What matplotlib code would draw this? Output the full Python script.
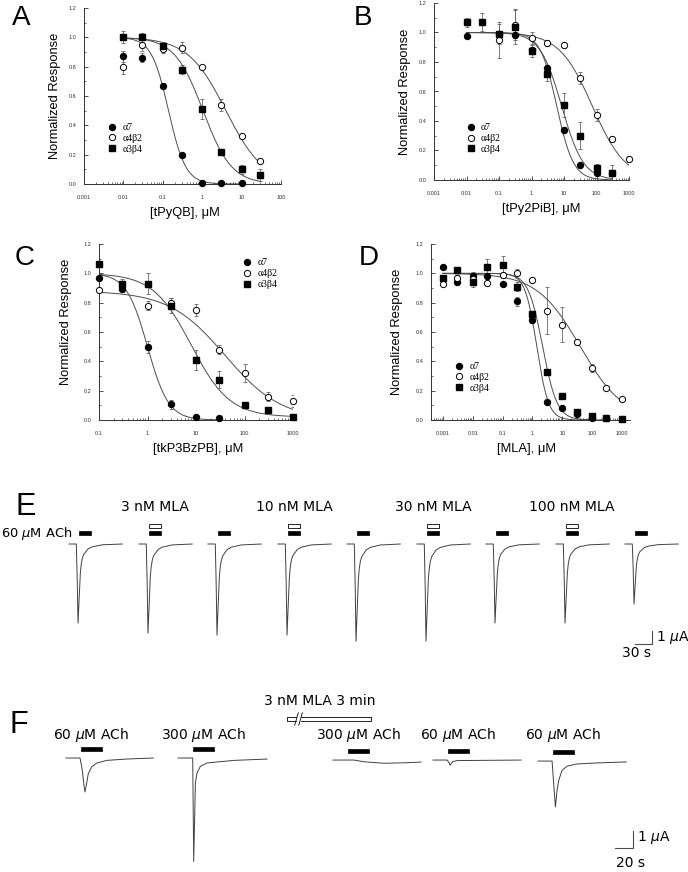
import numpy as np
import matplotlib
matplotlib.use("Agg")
import matplotlib.pyplot as plt
from matplotlib.patches import Rectangle
from matplotlib.ticker import LogLocator, MultipleLocator, NullFormatter

plt.rcParams['font.family'] = ['Liberation Sans', 'DejaVu Sans']
plt.rcParams['mathtext.fontset'] = 'dejavusans'

nan = np.nan
RECEPTORS = ['α7', 'α4β2', 'α3β4']

# ---- A: tPyQB
A_CONC = [0.01, 0.03, 0.1, 0.3, 1, 3, 10, 30]
A_A7 = [0.87, 0.86, 0.67, 0.20, 0.01, 0.01, 0.005, nan]
A_A7_ERR = [0.04, 0.03, 0.02, 0.01, 0, 0, 0, 0]
A_A4B2 = [0.80, 0.95, 0.92, 0.93, 0.80, 0.54, 0.33, 0.16]
A_A4B2_ERR = [0.05, 0.04, 0.03, 0.04, 0.01, 0.04, 0.01, 0.02]
A_A3B4 = [1.0, 1.0, 0.94, 0.78, 0.51, 0.22, 0.10, 0.06]
A_A3B4_ERR = [0.04, 0.03, 0.03, 0.03, 0.07, 0.02, 0.03, 0.04]
# fitted curves: top, bottom, IC50 (uM), Hill slope
A_FITS = [(1.0, 0.0, 0.14, 2.0), (1.0, 0.0, 4.0, 0.9), (1.0, 0.0, 1.05, 1.2)]
A_FIT_RANGE = [(0.01, 10), (0.01, 30), (0.01, 30)]

# ---- B: tPy2PiB
B_CONC = [0.01, 0.03, 0.1, 0.3, 1, 3, 10, 30, 100, 300, 1000]
B_A7 = [0.975, nan, 0.99, 0.985, 0.88, 0.76, 0.34, 0.105, 0.05, 0.045, nan]
B_A7_ERR = [0.01, 0, 0.02, 0.02, 0.02, 0.02, 0.02, 0.01, 0.01, 0.01, 0]
B_A4B2 = [nan, nan, 0.95, 1.05, 0.965, 0.93, 0.915, 0.69, 0.44, 0.28, 0.14]
B_A4B2_ERR = [0, 0, 0.12, 0.10, 0.04, 0.02, 0.02, 0.04, 0.04, 0.02, 0.02]
B_A3B4 = [1.07, 1.07, 0.99, 1.04, 0.875, 0.72, 0.51, 0.30, 0.08, 0.05, nan]
B_A3B4_ERR = [0.03, 0.06, 0.07, 0.12, 0.04, 0.05, 0.08, 0.09, 0.03, 0.05, 0]
B_FITS = [(1.0, 0.0, 6.0, 1.7), (1.0, 0.0, 75.0, 0.85), (1.0, 0.0, 8.5, 1.3)]
B_FIT_RANGE = [(0.01, 300), (0.01, 1000), (0.01, 300)]

# ---- C: tkP3BzPB
C_CONC = [0.1, 0.3, 1, 3, 10, 30, 100, 300, 1000]
C_A7 = [0.97, 0.895, 0.50, 0.107, 0.023, 0.014, nan, nan, nan]
C_A7_ERR = [0.02, 0.02, 0.04, 0.03, 0.01, 0.005, 0, 0, 0]
C_A4B2 = [0.888, nan, 0.78, 0.80, 0.75, 0.48, 0.32, 0.16, 0.13]
C_A4B2_ERR = [0.01, 0, 0.03, 0.03, 0.04, 0.03, 0.06, 0.03, 0.04]
C_A3B4 = [1.066, 0.93, 0.93, 0.78, 0.41, 0.275, 0.10, 0.07, 0.018]
C_A3B4_ERR = [0.01, 0.03, 0.07, 0.05, 0.07, 0.06, 0.01, 0.01, 0.01]
C_FITS = [(1.0, 0.0, 1.0, 2.0), (0.88, 0.0, 40.0, 0.75), (1.0, 0.02, 8.0, 1.1)]
C_FIT_RANGE = [(0.1, 30), (0.1, 1000), (0.1, 1000)]

# ---- D: MLA
D_CONC = [0.001, 0.003, 0.01, 0.03, 0.1, 0.3, 1, 3, 10, 30, 100, 300, 1000]
D_A7 = [1.04, 0.94, 0.98, 0.98, 0.93, 0.81, 0.68, 0.12, 0.08, 0.04, 0.014, 0.011, nan]
D_A7_ERR = [0.01, 0.02, 0.03, 0.02, 0.01, 0.03, 0.02, 0.01, 0.01, 0.01, 0, 0, 0]
D_A4B2 = [0.925, 0.97, 0.96, 0.935, 0.99, 1.0, 0.955, 0.745, 0.65, 0.53, 0.355, 0.22, 0.14]
D_A4B2_ERR = [0.01, 0.02, 0.02, 0.01, 0.02, 0.03, 0.01, 0.16, 0.12, 0.02, 0.03, 0.01, 0.01]
D_A3B4 = [0.97, 1.02, 0.94, 1.04, 1.055, 0.91, 0.72, 0.33, 0.165, 0.055, 0.025, 0.011, 0.007]
D_A3B4_ERR = [0.01, 0.02, 0.03, 0.06, 0.06, 0.03, 0.02, 0.01, 0.01, 0.01, 0.01, 0, 0]
D_FITS = [(1.0, 0.0, 1.4, 2.2), (1.0, 0.0, 40.0, 0.6), (1.0, 0.0, 2.2, 1.8)]
D_FIT_RANGE = [(0.001, 100), (0.001, 1000), (0.001, 300)]

# ---- E: ACh responses with MLA (time in s, current in uA)
E_START = [121.7, 245.1, 366.8, 490.3, 612.0, 735.4, 857.1, 980.6, 1102.3]
E_AMP = [5.85, 6.6, 6.75, 6.75, 7.2, 7.2, 5.85, 5.85, 4.45]
E_MLA = [None, '3 nM MLA', None, '10 nM MLA', None, '30 nM MLA', None, '100 nM MLA', None]
# normalised current shape
E_SHAPE_T = [0, 12.9, 14.5, 15.9, 17.3, 18.7, 20.0, 21.5, 23.5, 26.0, 29.4, 34.0, 41.2, 58.8, 94.0]
E_SHAPE_F = [0, 0, 0.45, 1, 0.78, 0.57, 0.37, 0.26, 0.18, 0.13, 0.10, 0.06, 0.035, 0.01, 0]

# ---- F: recovery after 3 nM MLA
F_LABELS = ['60 $\\mu$M ACh', '300 $\\mu$M ACh', '300 $\\mu$M ACh', '60 $\\mu$M ACh', '60 $\\mu$M ACh']
F_START = [73.3, 197.8, 370.0, 481.1, 597.8]
F_BASE = [0.0, 0.0, -0.12, -0.12, -0.18]
F_T = [
    [0, 15.6, 18.1, 20.0, 21.1, 22.6, 24.8, 28.6, 34.1, 45.2, 67.4, 97.0],
    [0, 16.3, 17.4, 19.3, 21.1, 24.8, 32.2, 61.9, 98.9],
    [0, 23.3, 34.4, 56.7, 80.0, 97.8],
    [0, 15.6, 17.8, 18.9, 21.7, 26.7, 97.8],
    [0, 15.6, 17.4, 19.3, 21.1, 23.0, 26.7, 32.2, 43.3, 65.6, 98.1],
]
F_I = [
    [0, 0, -0.7, -1.6, -2.0, -1.6, -0.92, -0.52, -0.3, -0.14, -0.06, 0],
    [0, 0, -6.1, -1.46, -0.88, -0.49, -0.29, -0.14, -0.06],
    [0, 0, -0.1, -0.19, -0.16, -0.12],
    [0, 0, -0.15, -0.3, -0.1, -0.03, 0],
    [0, 0, -1.35, -2.7, -1.72, -1.13, -0.54, -0.3, -0.17, -0.11, -0.05],
]
F_MLA_ON, F_MLA_OFF = 318.9, 412.2

W, H = 688, 872
fig = plt.figure(figsize=(W / 100, H / 100), dpi=100)


def box(l, t, r, b):
    return [l / W, 1 - b / H, (r - l) / W, (b - t) / H]


def hill(x, top, bottom, ic50, nh):
    return bottom + (top - bottom) / (1 + (x / ic50) ** nh)


STYLE = [dict(marker='o', mfc='k', mec='k', ms=4.3),
         dict(marker='o', mfc='w', mec='k', ms=4.5, mew=0.7),
         dict(marker='s', mfc='k', mec='k', ms=4.3)]


def dose_panel(rect, letter, letter_xy, conc, means, errs, fits, fit_range, xlim,
               xticks, xlabel, leg_at, ylab_xy, xlab_x):
    ax = fig.add_axes(box(*rect))
    ax.set_xscale('log')
    for (top, bot, ic, nh), (lo, hi) in zip(fits, fit_range):
        xs = np.logspace(np.log10(lo), np.log10(hi), 200)
        ax.plot(xs, hill(xs, top, bot, ic, nh), color='0.3', lw=0.7, zorder=1)
    handles = []
    for m, e, st, name in zip(means, errs, STYLE, RECEPTORS):
        ax.errorbar(conc, m, yerr=e, fmt='none', ecolor='0.4', elinewidth=0.6,
                    capsize=1.4, capthick=0.6, zorder=2)
        h, = ax.plot(conc, m, ls='none', zorder=3, label=name, clip_on=False, **st)
        handles.append(h)
    ax.legend(handles=handles, loc='upper left', bbox_to_anchor=leg_at, frameon=False,
              prop={'family': 'Liberation Serif', 'size': 7}, handlelength=0.7,
              handletextpad=0.7, labelspacing=0.2, borderpad=0, borderaxespad=0,
              numpoints=1)
    ax.set_xlim(xlim)
    ax.set_ylim(0, 1.2)
    ax.set_xticks(xticks)
    ax.set_xticklabels([('%g' % v) for v in xticks])
    ax.xaxis.set_minor_locator(LogLocator(base=10, subs=np.arange(2, 10), numticks=30))
    ax.xaxis.set_minor_formatter(NullFormatter())
    yt = np.arange(0, 1.21, 0.2)
    ax.set_yticks(yt)
    ax.set_yticklabels(['%.1f' % v for v in yt])
    ax.yaxis.set_minor_locator(MultipleLocator(0.1))
    ax.tick_params(which='both', direction='in', labelsize=4, colors='0.2')
    ax.tick_params(which='major', length=3, width=0.6)
    ax.tick_params(which='minor', length=1.5, width=0.5)
    ax.tick_params(axis='x', pad=8)
    ax.tick_params(axis='y', pad=5.5)
    for s in ['top', 'right']:
        ax.spines[s].set_visible(False)
    for s in ['left', 'bottom']:
        ax.spines[s].set_linewidth(0.7)
        ax.spines[s].set_color('0.2')
    ax.set_ylabel('Normalized Response', fontsize=9.3, va='center')
    ax.yaxis.set_label_coords(*ylab_xy)
    ax.set_xlabel(xlabel, fontsize=9.3, va='center')
    ax.xaxis.set_label_coords(xlab_x, -29 / (rect[3] - rect[1]))
    fig.text(letter_xy[0] / W, 1 - letter_xy[1] / H, letter, fontsize=20, va='baseline')
    return ax


dose_panel((84, 8, 281, 184), 'A', (12, 25), A_CONC, [A_A7, A_A4B2, A_A3B4],
           [A_A7_ERR, A_A4B2_ERR, A_A3B4_ERR], A_FITS, A_FIT_RANGE, (0.001, 100),
           [0.001, 0.01, 0.1, 1, 10, 100], '[tPyQB], μM', (0.127, 0.347), (-0.147, 0.5), 0.51)
dose_panel((434, 3, 629, 180), 'B', (354, 25), B_CONC, [B_A7, B_A4B2, B_A3B4],
           [B_A7_ERR, B_A4B2_ERR, B_A3B4_ERR], B_FITS, B_FIT_RANGE, (0.001, 1000),
           [0.001, 0.01, 0.1, 1, 10, 100, 1000], '[tPy2PiB], μM', (0.17, 0.322), (-0.149, 0.5), 0.55)
dose_panel((99, 244, 293, 420), 'C', (15, 265), C_CONC, [C_A7, C_A4B2, C_A3B4],
           [C_A7_ERR, C_A4B2_ERR, C_A3B4_ERR], C_FITS, C_FIT_RANGE, (0.1, 1000),
           [0.1, 1, 10, 100, 1000], '[tkP3BzPB], μM', (0.747, 0.92), (-0.17, 0.557), 0.51)
dose_panel((431, 244, 630, 420), 'D', (359, 265), D_CONC, [D_A7, D_A4B2, D_A3B4],
           [D_A7_ERR, D_A4B2_ERR, D_A3B4_ERR], D_FITS, D_FIT_RANGE, (0.0004, 1850),
           [0.001, 0.01, 0.1, 1, 10, 100, 1000], '[MLA], μM', (0.126, 0.33), (-0.171, 0.5), 0.48)

TRACE = dict(color='0.25', lw=0.7)
TXT = dict(fontsize=10, family='DejaVu Sans')

# ---- E
axE = fig.add_axes(box(0, 485, 688, 665))
axE.axis('off')
axE.set_xlim(0, 1213.4)
axE.set_ylim(-8.96, 4.37)
for t0, amp, mla in zip(E_START, E_AMP, E_MLA):
    axE.plot(t0 + np.array(E_SHAPE_T), -amp * np.array(E_SHAPE_F), **TRACE)
    axE.add_patch(Rectangle((t0 + 17, 0.67), 22, 0.29, fc='k', ec='k', lw=0.5))
    if mla:
        axE.add_patch(Rectangle((t0 + 17, 1.19), 22, 0.29, fc='w', ec='k', lw=0.6))
        axE.text(t0 + 28, 2.74, mla, ha='center', va='center', **TXT)
axE.text(2.0, 0.81, '60 $\\mu$M ACh', ha='left', va='center',
         fontsize=9.4, family='DejaVu Sans')
axE.plot([1120, 1150, 1150], [-7.41, -7.41, -6.41], color='0.3', lw=0.8)
axE.text(1157, -6.9, '1 $\\mu$A', ha='left', va='center', **TXT)
axE.text(1123, -8.07, '30 s', ha='center', va='center', **TXT)
fig.text(15 / W, 1 - 515 / H, 'E', fontsize=22, va='baseline')

# ---- F
axF = fig.add_axes(box(0, 695, 688, 872))
axF.axis('off')
axF.set_xlim(0, 764.4)
axF.set_ylim(-6.71, 3.71)
for t0, base, ts, cur, lab in zip(F_START, F_BASE, F_T, F_I, F_LABELS):
    axF.plot(t0 + np.array(ts), base + np.array(cur), **TRACE)
    axF.add_patch(Rectangle((t0 + 16.7, base + 0.42), 23.3, 0.24, fc='k', ec='k', lw=0.5))
    axF.text(t0 + 28.3, 1.35, lab, ha='center', va='center', **TXT)
# MLA pre-application bar with a break
brk0, brk1 = 328.9, 334.4
lo, hi = 2.18, 2.41
axF.plot([brk0, F_MLA_ON, F_MLA_ON, brk0], [hi, hi, lo, lo], color='k', lw=0.6)
axF.plot([brk1, F_MLA_OFF, F_MLA_OFF, brk1], [hi, hi, lo, lo], color='k', lw=0.6)
axF.plot([brk0 - 1.5, brk0 + 2.5], [lo - 0.25, hi + 0.25], color='k', lw=0.6)
axF.plot([brk1 - 2.5, brk1 + 1.5], [lo - 0.25, hi + 0.25], color='k', lw=0.6)
axF.text(355.6, 3.35, '3 nM MLA 3 min', ha='center', va='center', **TXT)
axF.plot([683.3, 703.3, 703.3], [-5.29, -5.29, -4.29], color='0.3', lw=0.8)
axF.text(707.8, -4.65, '1 $\\mu$A', ha='left', va='center', **TXT)
axF.text(700, -6.18, '20 s', ha='center', va='center', **TXT)
fig.text(9 / W, 1 - 733 / H, 'F', fontsize=22, va='baseline')

fig.savefig('out.png', dpi=100)
